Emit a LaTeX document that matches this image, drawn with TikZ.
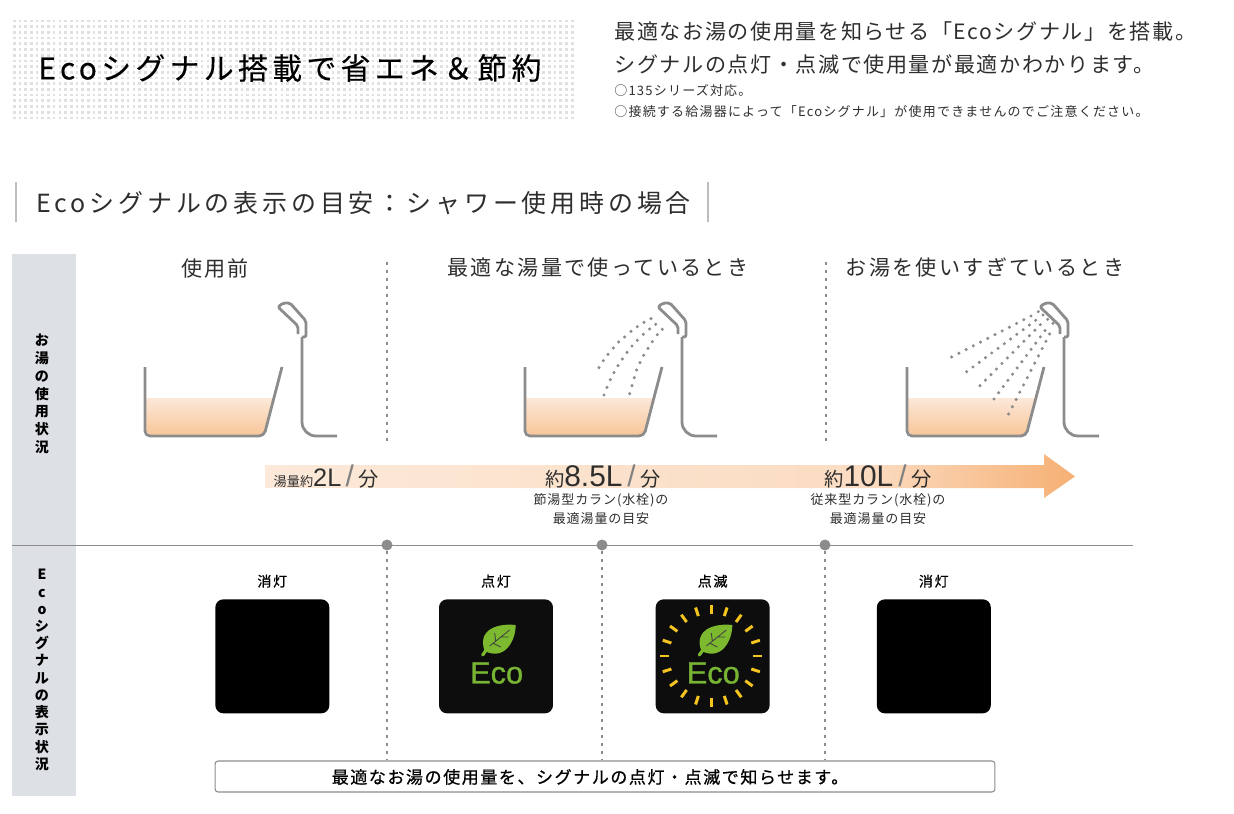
\documentclass[tikz,border=0pt]{standalone}
\usepackage{fontspec}
\setmainfont{Noto Sans CJK JP}
\newfontfamily\numfont{Liberation Sans}
\usetikzlibrary{positioning, calc}

\definecolor{linegray}{HTML}{8C8C8C}
\definecolor{bargray}{HTML}{BDBDBD}
\definecolor{inkgray}{HTML}{2E2E2E}
\definecolor{panelgray}{HTML}{DDE1E6}
\definecolor{hatchgray}{HTML}{E0E0E0}
\definecolor{waterlight}{HTML}{FCE8D8}
\definecolor{watermid}{HTML}{FCE2CE}
\definecolor{waterdeep}{HTML}{F8C699}
\definecolor{flowlight}{HTML}{FCE9D9}
\definecolor{flowmid}{HTML}{FBDCC2}
\definecolor{flowdeep}{HTML}{F6B074}
\definecolor{leafgreen}{HTML}{7CB92F}
\definecolor{wordgreen}{HTML}{78B534}
\definecolor{rayyellow}{HTML}{F4C51E}

\pgfdeclarehorizontalshading{flowshade}{100bp}{color(0bp)=(flowlight); color(25bp)=(flowlight); color(62bp)=(flowmid); color(75bp)=(flowdeep); color(100bp)=(flowdeep)}

\tikzstyle{title}=[inner sep=0, anchor=west, text=black, font={\fontsize{17}{20}\selectfont\addfontfeature{LetterSpace=14.5,FakeBold=0.3}}]
\tikzstyle{lead}=[inner sep=0, anchor=west, text=inkgray, font={\fontsize{12}{14}\selectfont\addfontfeature{LetterSpace=7.5}}]
\tikzstyle{remark}=[inner sep=0, anchor=west, text=inkgray, font={\fontsize{7.4}{9}\selectfont\addfontfeature{LetterSpace=9.3}}]
\tikzstyle{heading}=[inner sep=0, anchor=west, text=inkgray, font={\fontsize{14.2}{17}\selectfont\addfontfeature{LetterSpace=15.5}}]
\tikzstyle{column}=[inner sep=0, text=inkgray, font={\fontsize{12}{14}\selectfont\addfontfeature{LetterSpace=11}}]
\tikzstyle{hint}=[inner sep=0, align=center, text=inkgray, font={\fontsize{7.4}{10.8}\selectfont\addfontfeature{LetterSpace=7}}]
\tikzstyle{state}=[inner sep=0, text=black, font={\fontsize{8}{9}\selectfont\addfontfeature{LetterSpace=12,FakeBold=0.6}}]
\tikzstyle{side}=[inner sep=0, align=center, text=black, font={\fontsize{8}{10.1}\bfseries\selectfont}]
\tikzstyle{lamp}=[rectangle, fill=black, rounded corners=0.16cm, inner sep=0, minimum width=2.28cm, minimum height=2.28cm]
\tikzstyle{junction}=[circle, fill=linegray, inner sep=0, minimum size=0.22cm]
\tikzstyle{rule}=[line width=0.5pt, draw=linegray]
\tikzstyle{bar}=[line width=0.7pt, draw=bargray]
\tikzstyle{dotline}=[line width=1.6pt, draw=linegray, dash pattern=on 1.6pt off 2.95pt]
\tikzstyle{fixture}=[line width=1.6pt, draw=linegray, line join=round]
\tikzstyle{spray}=[fill=gray!90]
\tikzstyle{ray}=[line width=1.7pt, draw=rayyellow]

\newcommand{\flowrate}[5]{{\fontsize{#1}{12}\selectfont #2}{\numfont\fontsize{#3}{20}\selectfont #4\,\textcolor{gray}{\fontsize{17}{20}\selectfont /}\,}{\fontsize{#5}{12}\selectfont 分}}

\tikzset{
    bathtub/.pic={
        \shade[top color=waterlight, middle color=watermid, bottom color=waterdeep]
            (146,398) -- (273,398) -- (264,431) -- (262,435) -- (150,435) -- (146,431) -- cycle;
        \draw[fixture, rounded corners=0.1cm] (145,367) -- (145,436) -- (264,436) -- (282,367);
        \draw[fixture, rounded corners=0.04cm] (298,334) -- (298,326) -- (278,307) -- (283,303) -- (290,303) -- (306,321) -- (306,337) -- (302,337);
        \draw[fixture, rounded corners=0.28cm] (302,337) -- (302,436) -- (337,436);
    },
    ecoleaf/.pic={
        \fill[leafgreen] (46,52) .. controls (38,30) and (60,24) .. (77,26) .. controls (77,42) and (66,62) .. (46,52) -- cycle;
        \draw[leafgreen, line width=1.8pt, line cap=round] (44,56) -- (49,49);
        \draw[black!75, line width=0.5pt] (51,47) -- (71,31) (57,42) -- (56,34) (62,38) -- (70,38) (54,44) -- (62,48);
        \node[inner sep=0, text=wordgreen, font={\numfont\fontsize{17.5}{20}\selectfont\addfontfeature{FakeBold=1}}] (word) at (58,74) {Eco};
    }
}

\begin{document}
\begin{tikzpicture}[x=0.02cm, y=-0.02cm]
        \useasboundingbox (0,0) rectangle (1234,814);

        % Draw the title band
        \foreach \y in {21,26.7,...,118} {
            \draw[hatchgray, line width=1.5pt, dash pattern=on 1.5pt off 1.74pt] (13,\y) -- (575,\y);
        }
        \node[title] (title) at (38,68) {Ecoシグナル搭載で省エネ＆節約};
        \node[lead] (lead one) at (614,31) {最適なお湯の使用量を知らせる「Ecoシグナル」を搭載。};
        \node[lead] (lead two) at (614,64) {シグナルの点灯・点滅で使用量が最適かわかります。};
        \node[remark] (remark one) at (614,91) {○135シリーズ対応。};
        \node[remark] (remark two) at (614,112) {○接続する給湯器によって「Ecoシグナル」が使用できませんのでご注意ください。};

        % Draw the heading
        \node[heading] (heading) at (36,203) {Ecoシグナルの表示の目安：シャワー使用時の場合};
        \coordinate (bar top a) at (16,182);
        \coordinate (bar end a) at (16,222);
        \coordinate (bar top b) at (708,182);
        \coordinate (bar end b) at (708,222);
        \draw[bar] (bar top a) -- (bar end a);
        \draw[bar] (bar top b) -- (bar end b);

        % Draw the side panel
        \node[fill=panelgray, inner sep=0, minimum width=1.28cm, minimum height=10.84cm] (panel) at (44,525) {};
        \node[side] (use label) at (42,394) {お\\湯\\の\\使\\用\\状\\況};
        \node[side, font={\fontsize{8}{9.8}\bfseries\selectfont}] (signal label) at (42,670) {E\\c\\o\\シ\\グ\\ナ\\ル\\の\\表\\示\\状\\況};

        % Draw the columns
        \node[column] (before) at (215,268) {使用前};
        \node[column] (optimal) at (598,268) {最適な湯量で使っているとき};
        \node[column] (excess) at (985,268) {お湯を使いすぎているとき};

        % Draw the baths
        \pic (bath a) at (0,0) {bathtub};
        \pic (bath b) at (380,0) {bathtub};
        \pic (bath c) at (762,0) {bathtub};

        % spray of the second bath
        \foreach \x/\y in {453/86,432/97,412/110,393/124,374/141,356/156,340/174,324/193,310/212,297/233,
                           467/103,449/117,430/133,412/151,396/168,381/187,367/207,354/227,342/248,331/269,321/292,312/315,
                           487/118,472/134,457/155,444/175,431/196,420/218,410/240,403/263,396/287,389/311} {
            \fill[spray] ({500+\x/3},{290+\y/3}) circle (1.7);
        }
        % spray of the third bath
        \foreach \ax/\ay/\bx/\by in {453/78/215/201, 467/91/260/245, 481/104/300/287, 495/122/342/327, 509/132/386/372} {
            \foreach \i in {0,...,11} {
                \fill[spray] ({880+(\ax+(\bx-\ax)*\i/11)/3},{290+(\ay+(\by-\ay)*\i/11)/3}) circle (1.7);
            }
        }
        \foreach \x/\y in {475/65,489/75,503/88,519/100} {
            \fill[spray] ({880+\x/3},{290+\y/3}) circle (1.7);
        }

        % Draw the flow arrow
        \shade[shading=flowshade]
            (265,465) -- (1044,465) -- (1044,454) -- (1075,476.5) -- (1044,498) -- (1044,488) -- (265,488) -- cycle;
        \node[inner sep=0, text=inkgray] (rate a) at (326,477) {\flowrate{7.5}{湯量約}{14.4}{2L}{11.5}};
        \node[inner sep=0, text=inkgray] (rate b) at (603,477) {\flowrate{11}{約}{17}{8.5L}{11.5}};
        \node[inner sep=0, text=inkgray] (rate c) at (878,477) {\flowrate{11}{約}{17}{10L}{11.5}};
        \node[hint] (hint b) at (601,509) {節湯型カラン(水栓)の\\最適湯量の目安};
        \node[hint] (hint c) at (878,509) {従来型カラン(水栓)の\\最適湯量の目安};

        % Draw the signal lamps
        \node[lamp, anchor=north west] (lamp a) at (215,599) {};
        \node[lamp, right = 2.18cm of lamp a, fill=black!95] (lamp b) {};
        \node[lamp, right = 2.04cm of lamp b, fill=black!95] (lamp c) {};
        \node[lamp, right = 2.13cm of lamp c] (lamp d) {};
        \node[state, above = 0.22cm of lamp a] (state a) {消灯};
        \node[state, above = 0.22cm of lamp b] (state b) {点灯};
        \node[state, above = 0.22cm of lamp c] (state c) {点滅};
        \node[state, above = 0.22cm of lamp d] (state d) {消灯};
        \pic (leaf b) at (lamp b.north west) {ecoleaf};
        \pic (leaf c) at (lamp c.north west) {ecoleaf};
        \begin{scope}[shift={(lamp c.north west)}]
            \foreach \a in {0,18,...,342} {
                \draw[ray] (56,57) ++(\a:42) -- ++(\a:9);
            }
        \end{scope}

        % Draw the note
        \node[rectangle, draw=linegray, fill=white, line width=0.6pt, rounded corners=0.06cm, inner sep=0, minimum width=15.6cm, minimum height=0.62cm] (note) at (605,776.5) {};
        \node[inner sep=0, font={\fontsize{9.7}{12}\selectfont\addfontfeature{LetterSpace=9,FakeBold=0.6}}] (note text) at (590,777) {最適なお湯の使用量を、シグナルの点灯・点滅で知らせます。};

        % Draw the separators
        \coordinate (rule start) at (12,545);
        \coordinate (rule end) at (1133,545);
        \draw[rule] (rule start) -- (rule end);
        \node[junction] (mark a) at (387,545) {};
        \node[junction] (mark b) at (602,545) {};
        \node[junction] (mark c) at (825,545) {};
        \coordinate (top a) at (387,262);
        \coordinate (end a) at (387,442);
        \coordinate (top c) at (826,262);
        \coordinate (end c) at (826,442);
        \draw[dotline] (top a) -- (end a);
        \draw[dotline] (top c) -- (end c);
        \def\points{mark a, mark b, mark c}
        \foreach \p in \points {
            \draw[dotline] (\p) -- (\p |- note.north);
        }

    \end{tikzpicture}
\end{document}
